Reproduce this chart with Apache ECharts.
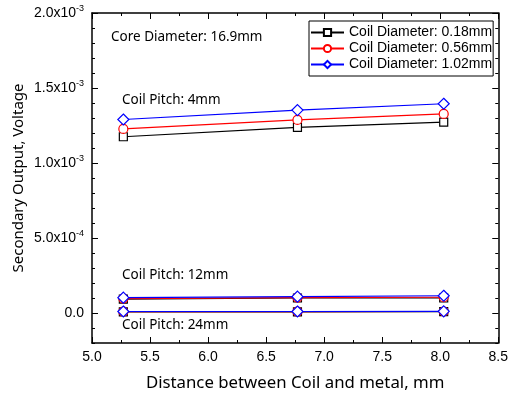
<!DOCTYPE html>
<html>
<head>
<meta charset="utf-8">
<script src="https://cdn.jsdelivr.net/npm/echarts@6/dist/echarts.min.js"></script>
<style>html,body{margin:0;padding:0;background:#fff}#c{width:511px;height:398px}</style>
</head>
<body>
<div id="c"></div>
<script>
const xValues = [5.27, 6.77, 8.03];
const diameters = ['Coil Diameter: 0.18mm', 'Coil Diameter: 0.56mm', 'Coil Diameter: 1.02mm'];
// Coil pitch 4mm
const p4_d018 = [1.175e-3, 1.237e-3, 1.273e-3];
const p4_d056 = [1.227e-3, 1.287e-3, 1.327e-3];
const p4_d102 = [1.290e-3, 1.353e-3, 1.395e-3];
// Coil pitch 12mm
const p12_d018 = [0.93e-4, 1.00e-4, 1.00e-4];
const p12_d056 = [0.96e-4, 1.03e-4, 1.05e-4];
const p12_d102 = [1.02e-4, 1.09e-4, 1.15e-4];
// Coil pitch 24mm
const p24_d018 = [0.8e-5, 0.8e-5, 0.9e-5];
const p24_d056 = [0.9e-5, 0.9e-5, 1.0e-5];
const p24_d102 = [1.0e-5, 1.0e-5, 1.1e-5];
const yMajorTicks = [0, 5e-4, 1e-3, 1.5e-3, 2e-3];

const colors = ['#000000', '#ff0000', '#0000ff'];
const symbols = ['rect', 'circle', 'diamond'];
const symSizes = [8, 9, 11];
const groups = [
  [p4_d018, p12_d018, p24_d018],
  [p4_d056, p12_d056, p24_d056],
  [p4_d102, p12_d102, p24_d102]
];

const series = [];
groups.forEach((g, i) => {
  g.forEach(vals => {
    series.push({
      name: diameters[i], type: 'line', xAxisIndex: 0, yAxisIndex: 0,
      data: xValues.map((x, k) => [x, vals[k]]),
      symbol: symbols[i], symbolSize: symSizes[i], showAllSymbol: true,
      itemStyle: { color: '#fff', borderColor: colors[i], borderWidth: 1.2 },
      lineStyle: { color: colors[i], width: 1.2 },
      emphasis: { disabled: true }, animation: false
    });
  });
});

function fmt(v) {
  if (Math.abs(v) < 1e-12) return '{b|0.0}';
  const e = Math.floor(Math.log10(Math.abs(v)) + 1e-9);
  const m = v / Math.pow(10, e);
  return '{b|' + m.toFixed(1) + 'x10}{s|' + e + '}';
}

const tickFont = 'Liberation Sans, Arial, sans-serif';
const textFont = '"Noto Sans", "Open Sans", sans-serif';
const yMin = -2e-4, yMax = 2e-3;
const axisLineStyle = { color: '#000', width: 1.5 };
const noteFont = '13.5px "Noto Sans", sans-serif';

const chart = echarts.init(document.getElementById('c'), null, { renderer: 'canvas' });
chart.setOption({
  animation: false,
  grid: { left: 92, right: 9, top: 13, bottom: 55 },
  legend: {
    data: diameters, orient: 'vertical', left: 309, top: 21,
    itemWidth: 33, itemHeight: 9, itemGap: 1,
    padding: [4, 1, 4, 1],
    borderColor: '#000', borderWidth: 1, backgroundColor: '#fff',
    textStyle: { fontFamily: tickFont, fontSize: 14, lineHeight: 15, color: '#000' },
    selectedMode: false
  },
  xAxis: [
    { type: 'value', position: 'bottom', min: 5, max: 8.5, interval: 0.5,
      axisLine: { show: true, onZero: false, lineStyle: axisLineStyle },
      axisTick: { show: true, inside: true, length: 6, lineStyle: { color: '#000' } },
      minorTick: { show: true, splitNumber: 2, length: 3, lineStyle: { color: '#000' } },
      splitLine: { show: false },
      axisLabel: { margin: 7, fontFamily: tickFont, fontSize: 14, color: '#000', formatter: v => v.toFixed(1) },
      name: 'Distance between Coil and metal, mm', nameLocation: 'middle', nameGap: 32,
      nameTextStyle: { fontFamily: textFont, fontSize: 16.8, color: '#000' } },
    { type: 'value', position: 'top', min: 5, max: 8.5, interval: 0.5,
      axisLine: { show: true, onZero: false, lineStyle: axisLineStyle },
      axisTick: { show: true, inside: true, length: 6, lineStyle: { color: '#000' } },
      minorTick: { show: true, splitNumber: 2, length: 3, lineStyle: { color: '#000' } },
      splitLine: { show: false }, axisLabel: { show: false } }
  ],
  yAxis: [
    { type: 'value', position: 'left', min: yMin, max: yMax, interval: 1e-4,
      axisLine: { show: true, onZero: false, lineStyle: axisLineStyle },
      axisTick: { show: true, inside: true, length: 3, lineStyle: { color: '#000' } },
      splitLine: { show: false }, axisLabel: { show: false },
      name: 'Secondary Output, Voltage', nameLocation: 'middle', nameGap: 66,
      nameTextStyle: { fontFamily: textFont, fontSize: 15, color: '#000' } },
    { type: 'value', position: 'left', min: yMin, max: yMax,
      axisLine: { show: false, onZero: false },
      axisTick: { show: true, inside: true, length: 6, customValues: yMajorTicks, lineStyle: { color: '#000' } },
      splitLine: { show: false },
      axisLabel: { show: true, margin: 8, customValues: yMajorTicks, formatter: fmt,
        rich: { b: { fontFamily: tickFont, fontSize: 14, color: '#000' },
                s: { fontFamily: tickFont, fontSize: 9, color: '#000', padding: [0, 0, 9, 0] } } } },
    { type: 'value', position: 'right', min: yMin, max: yMax, interval: 1e-4,
      axisLine: { show: true, onZero: false, lineStyle: axisLineStyle },
      axisTick: { show: true, inside: true, length: 3, lineStyle: { color: '#000' } },
      splitLine: { show: false }, axisLabel: { show: false } },
    { type: 'value', position: 'right', min: yMin, max: yMax,
      axisLine: { show: false, onZero: false },
      axisTick: { show: true, inside: true, length: 6, customValues: yMajorTicks, lineStyle: { color: '#000' } },
      splitLine: { show: false }, axisLabel: { show: false, customValues: yMajorTicks } }
  ],
  graphic: [
    { type: 'text', left: 111, top: 30, style: { text: 'Core Diameter: 16.9mm', font: noteFont, fill: '#000' } },
    { type: 'text', left: 122, top: 93, style: { text: 'Coil Pitch: 4mm', font: noteFont, fill: '#000' } },
    { type: 'text', left: 122, top: 268, style: { text: 'Coil Pitch: 12mm', font: noteFont, fill: '#000' } },
    { type: 'text', left: 122, top: 318, style: { text: 'Coil Pitch: 24mm', font: noteFont, fill: '#000' } }
  ],
  series: series
});
</script>
</body>
</html>
